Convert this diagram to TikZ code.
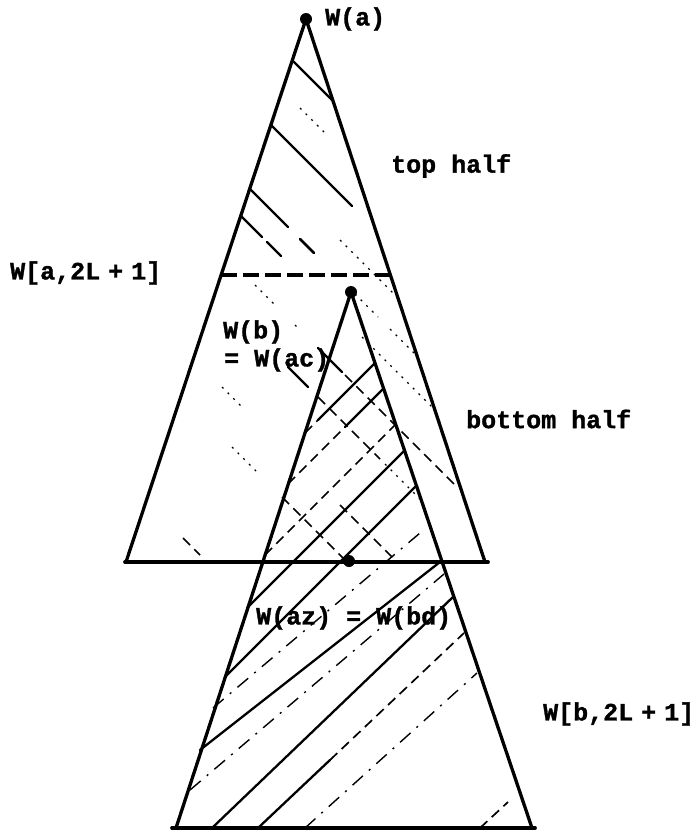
\documentclass[tikz,border=0pt]{standalone}
\usepackage{fontspec}
\newfontfamily\tw{Liberation Mono}[FakeBold=1.2]
\begin{document}
\begin{tikzpicture}[x=1bp,y=-1bp,
  side/.style={line width=3.3bp,line cap=round,line join=round},
  baseline/.style={line width=3.8bp,line cap=round},
  cutline/.style={line width=4.5bp,dash pattern=on 16bp off 6bp},
  hs/.style={line width=2.3bp,line cap=round},
  hd/.style={line width=1.7bp,dash pattern=on 10bp off 6bp},
  hdd/.style={line width=1.4bp,dash pattern=on 14bp off 8bp on 2bp off 8bp},
  ht/.style={line width=1.2bp,dash pattern=on 2bp off 6bp},
  dot/.style={circle,fill=black,inner sep=0pt,minimum size=12bp},
  lbl/.style={anchor=west,inner sep=0pt,font=\tw\bfseries\fontsize{25bp}{30bp}\selectfont}]
\useasboundingbox (0,0) rectangle (699,831);
% vertices
\coordinate (At) at (306,19);
\coordinate (Al) at (126,562);
\coordinate (Ar) at (485,562);
\coordinate (Bt) at (351,292);
\coordinate (Bl) at (176,828);
\coordinate (Br) at (532,828);
\coordinate (AbL) at (125,562);
\coordinate (AbR) at (488,562);
\coordinate (BbL) at (172,828);
\coordinate (BbR) at (535,828);
\coordinate (Cl) at (221,275);
\coordinate (Cr) at (390,275);
% hatching "\" lines in A
\draw[hs] (292,60) -- (333,101);
\draw[ht] (300,108) -- (328,136);
\draw[hs] (271,125) -- (352,206);
\draw[ht] (340,240) -- (396,296);
\draw[hs] (250,189) -- (288,227);
\draw[hs,line width=2.8bp] (300,239) -- (314,253);
\draw[ht] (355,294) -- (378,317);
\draw[ht] (390,329) -- (416,355);
\draw[hs] (241,216) -- (262,237);
\draw[hs] (267,242) -- (281,256);
\draw[ht] (362,337) -- (434,409);
\draw[ht] (255,285) -- (275,305);
\draw[ht] (295,325) -- (299,329);
\draw[hs] (318,348) -- (342,372);
\draw[hd] (345,375) -- (455,485);
\draw[hs] (288,367) -- (308,387);
\draw[hd] (318,397) -- (380,459);
\draw[ht] (385,464) -- (420,499);
\draw[ht] (222,387) -- (244,409);
\draw[hd] (340,505) -- (397,562);
\draw[ht] (232,447) -- (256,471);
\draw[hd] (282,497) -- (347,562);
\draw[hd] (183,538) -- (200,555);
% hatching "/" lines in B
\draw[hd] (305,433) -- (318,420);
\draw[hs] (318,420) -- (375,363);
\draw[hd] (288,484) -- (345,427);
\draw[hs] (345,427) -- (383,389);
\draw[hd] (265,555) -- (395,425);
\draw[hs] (247,608) -- (404,451);
\draw[hs] (225,677) -- (415,487);
\draw[hdd] (213,708) -- (420,533);
\draw[hs] (200,750) -- (440,562);
\draw[hdd] (190,790) -- (444,574);
\draw[hs] (212,828) -- (453,597);
\draw[hs] (258,828) -- (330,760);
\draw[hd] (330,760) -- (464,633);
\draw[hdd] (305,828) -- (477,673);
\draw[hd] (480,828) -- (508,802);
% triangles
\draw[side] (Al) -- (At) -- (Ar);
\draw[side] (Bl) -- (Bt) -- (Br);
\draw[baseline] (AbL) -- (AbR);
\draw[baseline] (BbL) -- (BbR);
\draw[cutline] (Cl) -- (Cr);
% dots
\node[dot] (da) at (At) {};
\node[dot] (db) at (Bt) {};
\node[dot] (dm) at (349,561) {};
% labels
\node[lbl] (la) at (325,19) {W(a)};
\node[lbl] (ltop) at (391,166) {top half};
\node[lbl] (lwa) at (10,273) {W[a,2L\kern8bp+\kern8bp1]};
\node[lbl] (lwb) at (223,332) {W(b)};
\node[lbl] (lwac) at (224,360) {= W(ac)};
\node[lbl] (lbot) at (466,419) {bottom half};
\node[lbl] (lwaz) at (256,618) {W(az) = W(bd)};
\node[lbl] (lwbb) at (543,714) {W[b,2L\kern8bp+\kern8bp1]};
\end{tikzpicture}
\end{document}
